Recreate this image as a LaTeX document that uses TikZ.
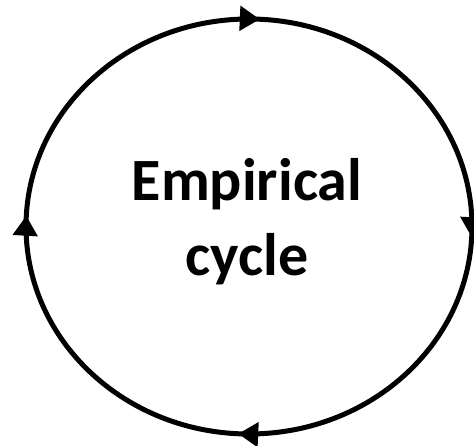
\documentclass[tikz,border=0pt]{standalone}
\usepackage{fontspec}
\setmainfont{Carlito}
\usetikzlibrary{decorations.markings,arrows.meta}
\begin{document}
\begin{tikzpicture}[x=1pt,y=-1pt,
  cyclearrow/.style={line width=5pt,
    postaction={decorate},
    decoration={markings,
      mark=between positions 0.008 and 0.9 step 0.25 with {\arrow{Triangle[length=20pt,width=24pt]}}}},
  label/.style={font=\fontsize{60}{75}\selectfont\bfseries, align=center, inner sep=0pt}]
\useasboundingbox (0,0) rectangle (474,446);
\coordinate (c) at (249,226.5);
\draw[cyclearrow] (249,19) arc[start angle=90, end angle=-270, x radius=223, y radius=-207.5];
\node[label] (t) at (247,222) {Empirical\\cycle};
\end{tikzpicture}
\end{document}
